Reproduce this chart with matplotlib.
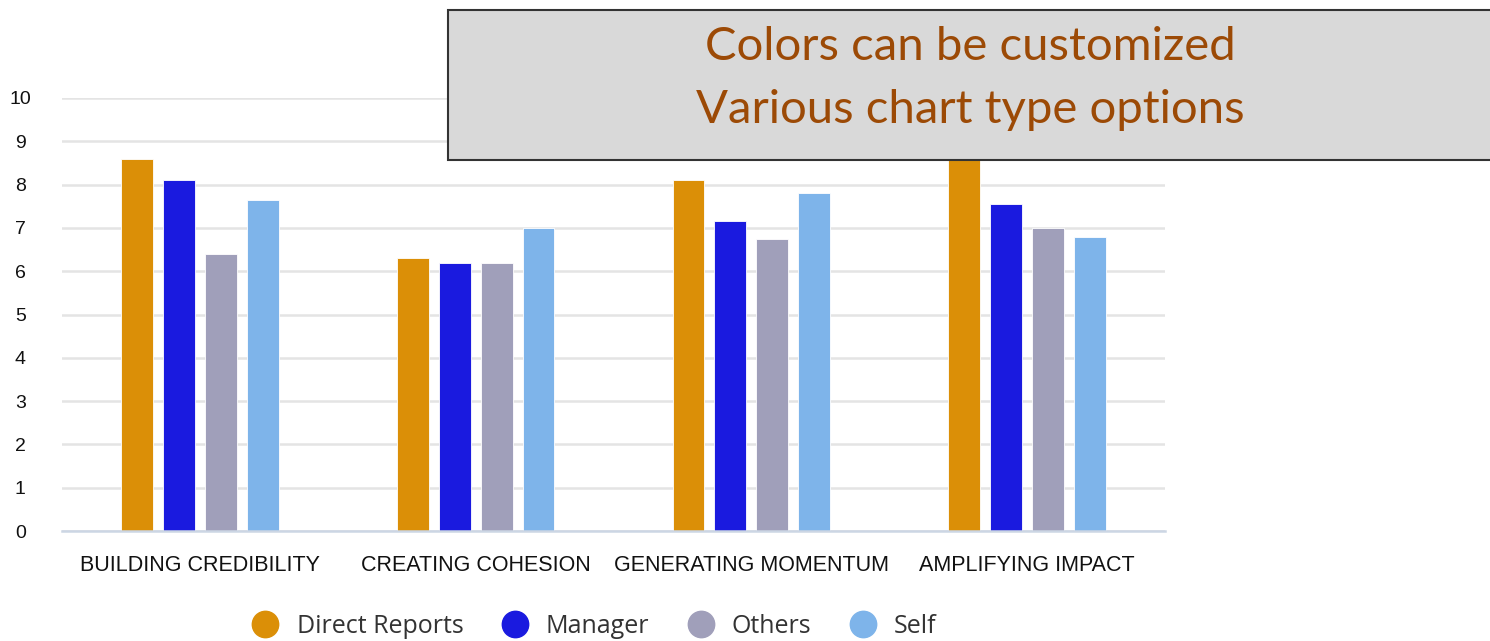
import numpy as np
import matplotlib
matplotlib.use("Agg")
import matplotlib.pyplot as plt
from matplotlib.lines import Line2D
from matplotlib.patches import Rectangle

categories = ["BUILDING CREDIBILITY", "CREATING COHESION", "GENERATING MOMENTUM", "AMPLIFYING IMPACT"]
series_names = ["Direct Reports", "Manager", "Others", "Self"]
direct_reports = [8.6, 6.3, 8.1, 8.7]
manager = [8.1, 6.2, 7.15, 7.55]
others = [6.4, 6.2, 6.75, 7.0]
self_scores = [7.65, 7.0, 7.8, 6.8]
colors = ["#db8f07", "#1a1adf", "#a09fba", "#7eb4ea"]

plt.rcParams['font.family'] = ['Liberation Sans', 'DejaVu Sans']

fig = plt.figure(figsize=(14.9, 6.41), dpi=100)
ax = fig.add_axes([62 / 1490, 1 - 531 / 641, (1165 - 62) / 1490, (531 - 98) / 641])

x = np.arange(len(categories))
step = 0.152
width = 0.116
all_series = [direct_reports, manager, others, self_scores]
for i, (vals, col) in enumerate(zip(all_series, colors)):
    ax.bar(x + (i - 1.5) * step, vals, width, color=col, edgecolor="white",
           linewidth=0.6, zorder=3)

ax.set_xlim(-0.5, 3.5)
ax.set_ylim(0, 10)
ax.set_yticks(range(0, 11))
ax.set_xticks(x)
ax.set_xticklabels(categories, fontsize=15.5, color="#111111")
ax.tick_params(axis="y", labelsize=14, length=0, pad=30, labelcolor="#111111")
for lbl in ax.get_yticklabels():
    lbl.set_horizontalalignment("center")
ax.tick_params(axis="x", length=0, pad=17)
ax.yaxis.grid(True, color="#e4e4e4", linewidth=1.8, zorder=0)
for s in ["top", "right", "left"]:
    ax.spines[s].set_visible(False)
ax.spines["bottom"].set_color("#ccd6e4")
ax.spines["bottom"].set_linewidth(1.8)
ax.spines["bottom"].set_zorder(4)

handles = [Line2D([0], [0], marker="o", linestyle="none", markersize=19,
                  markerfacecolor=c, markeredgecolor=c) for c in colors]
fig.legend(handles, series_names, loc="center", bbox_to_anchor=(0.395, 0.023),
           ncol=4, frameon=False, handletextpad=0.25,
           columnspacing=1.05, labelcolor="#333333",
           prop={"family": "Open Sans", "size": 18})

# annotation box
box = Rectangle((448 / 1490, 1 - 160 / 641), 1.0, 150 / 641, transform=fig.transFigure,
                facecolor="#d9d9d9", edgecolor="#333333", linewidth=1.5, zorder=10)
fig.add_artist(box)
fig.text(970 / 1490, 1 - 47 / 641, "Colors can be customized", ha="center", va="center",
         fontsize=34, color="#9c4a06", family="Lato", zorder=11)
fig.text(970 / 1490, 1 - 110 / 641, "Various chart type options", ha="center", va="center",
         fontsize=34, color="#9c4a06", family="Lato", zorder=11)

fig.savefig("out.png", dpi=100)
